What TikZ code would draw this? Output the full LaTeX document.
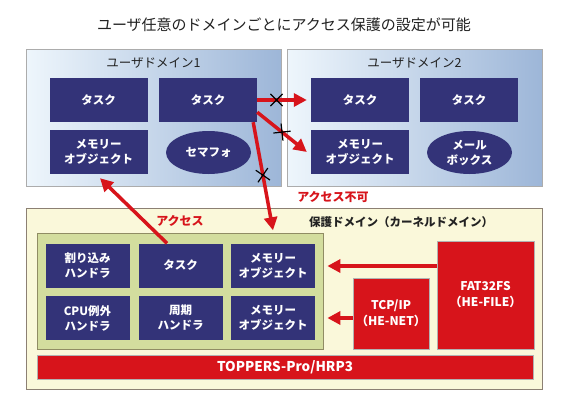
\documentclass[tikz,border=0pt]{standalone}
\usepackage{fontspec}
\setmainfont{Noto Sans CJK JP}
\usetikzlibrary{arrows.meta,shapes.geometric,shapes.misc,calc}
\definecolor{navy}{HTML}{333378}
\definecolor{arrred}{HTML}{D7141B}
\definecolor{ylw}{HTML}{FAF8DA}
\definecolor{grn}{HTML}{D3DD9E}
\definecolor{domL}{HTML}{EEF6FC}
\definecolor{domR}{HTML}{9DB6D8}
\definecolor{txt}{HTML}{222222}
\tikzset{
  udomain/.style={draw=gray!65, line width=1pt, left color=domL, right color=domR, minimum width=255pt, minimum height=136pt, inner sep=0pt},
  navybox/.style={fill=navy, text=white, font=\bfseries\fontsize{11.5}{15}\selectfont, align=center, minimum width=98pt, minimum height=44pt, inner sep=0pt},
  navyell/.style={ellipse, fill=navy, text=white, font=\bfseries\fontsize{11.5}{15}\selectfont, align=center, minimum width=85pt, minimum height=43pt, inner sep=0pt},
  kbox/.style={navybox, minimum width=84pt, minimum height=44pt},
  redbox/.style={fill=arrred, draw=gray!60, line width=0.8pt, text=white, font=\bfseries\fontsize{12}{16}\selectfont, align=center, inner sep=0pt},
  redarrow/.style={draw=arrred, line width=3.5pt, -{Triangle[length=13pt,width=13pt]}},
  crossmark/.style={cross out, draw=black, line width=1.2pt, minimum size=11pt, inner sep=0pt, sloped},
  redlabel/.style={text=arrred, font=\bfseries\fontsize{12}{14}\selectfont, inner sep=0pt}
}
\begin{document}
\begin{tikzpicture}[x=1pt,y=-1pt]
\useasboundingbox (0,0) rectangle (569,409);
\fill[white] (0,0) rectangle (569,409);
% title
\node[text=txt, font=\fontsize{15}{17}\selectfont] (title) at (284,25) {ユーザ任意のドメインごとにアクセス保護の設定が可能};
% user domains
\node[udomain] (dom1) at (153.5,118) {};
\node[udomain] (dom2) at (414.5,118) {};
\node[text=txt, font=\fontsize{12.5}{14}\selectfont] (dom1t) at (153.5,63) {ユーザドメイン1};
\node[text=txt, font=\fontsize{12.5}{14}\selectfont] (dom2t) at (414.5,63) {ユーザドメイン2};
\node[navybox] (d1t1) at (98.5,100) {タスク};
\node[navybox] (d1t2) at (208,100) {タスク};
\node[navybox] (d1mem) at (98.5,152) {メモリー\\オブジェクト};
\node[navyell] (d1sem) at (208.5,152.5) {セマフォ};
\node[navybox] (d2t1) at (360,100) {タスク};
\node[navybox] (d2t2) at (469,100) {タスク};
\node[navybox] (d2mem) at (360,152) {メモリー\\オブジェクト};
\node[navyell] (d2mb) at (469.5,152.5) {メール\\ボックス};
% protection domain
\node[fill=ylw, draw=gray!80!brown, line width=1pt, minimum width=516pt, minimum height=181pt, inner sep=0pt] (prot) at (284,298.5) {};
\node[anchor=west, text=txt, font=\bfseries\fontsize{11.5}{14}\selectfont, inner sep=0pt] (prott) at (309,222) {保護ドメイン（カーネルドメイン）};
\node[fill=grn, draw=gray!70!olive, line width=0.8pt, minimum width=286pt, minimum height=116pt, inner sep=0pt] (green) at (180,291) {};
\node[kbox] (k1) at (87.5,265.5) {割り込み\\ハンドラ};
\node[kbox] (k2) at (180.5,265.5) {タスク};
\node[kbox] (k3) at (273,265.5) {メモリー\\オブジェクト};
\node[kbox] (k4) at (87.5,318) {CPU例外\\ハンドラ};
\node[kbox] (k5) at (180.5,318) {周期\\ハンドラ};
\node[kbox] (k6) at (273,318) {メモリー\\オブジェクト};
\node[redbox, minimum width=496pt, minimum height=24pt, font=\bfseries\fontsize{13.5}{16}\selectfont] (toppers) at (285,367) {TOPPERS-Pro/HRP3};
\node[redbox, minimum width=76pt, minimum height=71pt] (tcp) at (391,313.5) {TCP/IP\\（HE-NET）};
\node[redbox, minimum width=97pt, minimum height=108pt] (fat) at (485.5,295) {FAT32FS\\（HE-FILE）};
% labels
\node[redlabel] (acc) at (180,221) {アクセス};
\node[redlabel] (accno) at (333,197) {アクセス不可};
% arrows
\draw[redarrow] (d1t2.east) -- ([xshift=-4pt]d2t1.west) node[crossmark, pos=0.39] (x1) {};
\draw[redarrow] ([yshift=10pt]d1t2.south east) -- ([xshift=-4pt]d2mem.west) node[crossmark, pos=0.5] (x2) {};
\draw[redarrow] ([xshift=-4pt]d1t2.south east) -- ([yshift=13pt]k3.north) node[crossmark, pos=0.49] (x3) {};
\draw[redarrow] ([xshift=-13.5pt]k2.north) -- ([xshift=1.5pt,yshift=-4pt]d1mem.south);
\coordinate (f1) at ([yshift=29pt]fat.west);
\coordinate (t1) at ([yshift=-4.5pt]tcp.west);
\draw[redarrow] (f1) -- ($(f1 -| green.east)+(4,0)$);
\draw[redarrow] (t1) -- ($(t1 -| green.east)+(4,0)$);
\end{tikzpicture}
\end{document}
